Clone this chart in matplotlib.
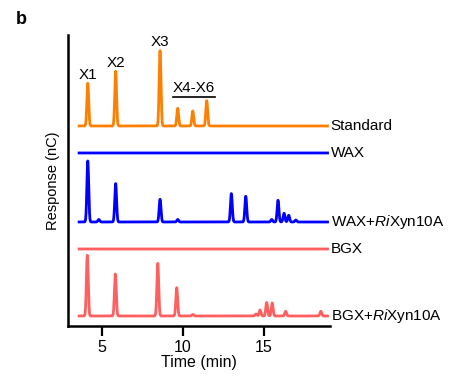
import numpy as np
import matplotlib.pyplot as plt

plt.rcParams['font.family'] = ['Liberation Sans', 'DejaVu Sans']
plt.rcParams['mathtext.fontset'] = 'custom'
plt.rcParams['mathtext.rm'] = 'Liberation Sans'
plt.rcParams['mathtext.it'] = 'Liberation Sans:italic'

# trace names, baselines (stacked offsets) and colours
traces = ['Standard', 'WAX', 'WAX+$\\it{Ri}$Xyn10A', 'BGX', 'BGX+$\\it{Ri}$Xyn10A']
baselines = [200, 173, 104, 77, 10]
colors = ['#ff8000', '#0000ff', '#0000ff', '#ff5f5f', '#ff5f5f']

# peaks: retention time (min) and height
std_rt = [4.12, 5.84, 8.58, 9.67, 10.60, 11.46]
std_h = [42.7, 54.7, 75.3, 17.7, 15.0, 25.3]

wax_rt = []
wax_h = []

waxri_rt = [4.12, 4.80, 5.84, 8.58, 9.67, 12.98, 13.87, 15.47, 15.86, 16.23, 16.52, 16.96]
waxri_h = [61.0, 2.5, 38.4, 22.7, 2.5, 28.4, 25.7, 2.5, 21.7, 8.7, 6.7, 2.0]

bgx_rt = []
bgx_h = []

bgxri_rt = [4.09, 5.82, 8.44, 9.61, 10.60, 14.50, 14.75, 15.16, 15.50, 16.33, 18.50]
bgxri_h = [60.7, 42.0, 52.7, 28.3, 1.5, 2.0, 6.0, 13.5, 13.0, 4.7, 4.7]

peak_rt = [std_rt, wax_rt, waxri_rt, bgx_rt, bgxri_rt]
peak_h = [std_h, wax_h, waxri_h, bgx_h, bgxri_h]

t = np.linspace(3.5, 19.0, 3000)

fig = plt.figure(figsize=(4.51, 3.76), dpi=100)
ax = fig.add_axes([0.1508, 0.133, 0.581, 0.774])

for name, base, col, rts, hs in zip(traces, baselines, colors, peak_rt, peak_h):
    y = np.full_like(t, float(base))
    for rt, h in zip(rts, hs):
        y += h * np.exp(-0.5 * ((t - rt) / 0.055) ** 2)
    ax.plot(t, y, color=col, lw=2.0, solid_capstyle='butt')
    ax.text(19.1, base, name, fontsize=11, va='center', ha='left')

# peak labels on standard
for lab, rt, h in zip(['X1', 'X2', 'X3'], std_rt[:3], std_h[:3]):
    ax.text(rt, 200 + h + 1.5, lab, fontsize=11, ha='center', va='bottom')
ax.text(10.65, 230.5, 'X4-X6', fontsize=11, ha='center', va='bottom')
ax.plot([9.35, 11.95], [229, 229], color='black', lw=1.2)

ax.set_xlim(2.9, 19.07)
ax.set_ylim(0, 291)
ax.set_xticks([5, 10, 15])
ax.set_yticks([])
ax.tick_params(axis='x', labelsize=11.5, width=1.6, length=7, pad=3)
for s in ['top', 'right']:
    ax.spines[s].set_visible(False)
for s in ['left', 'bottom']:
    ax.spines[s].set_linewidth(1.8)
ax.set_xlabel('Time (min)', fontsize=11.5, labelpad=0)
ax.set_ylabel('Response (nC)', fontsize=10.5, labelpad=6)

fig.text(0.035, 0.948, 'b', fontsize=13, fontweight='bold', ha='left', va='center')

fig.savefig('out.png', dpi=100)
